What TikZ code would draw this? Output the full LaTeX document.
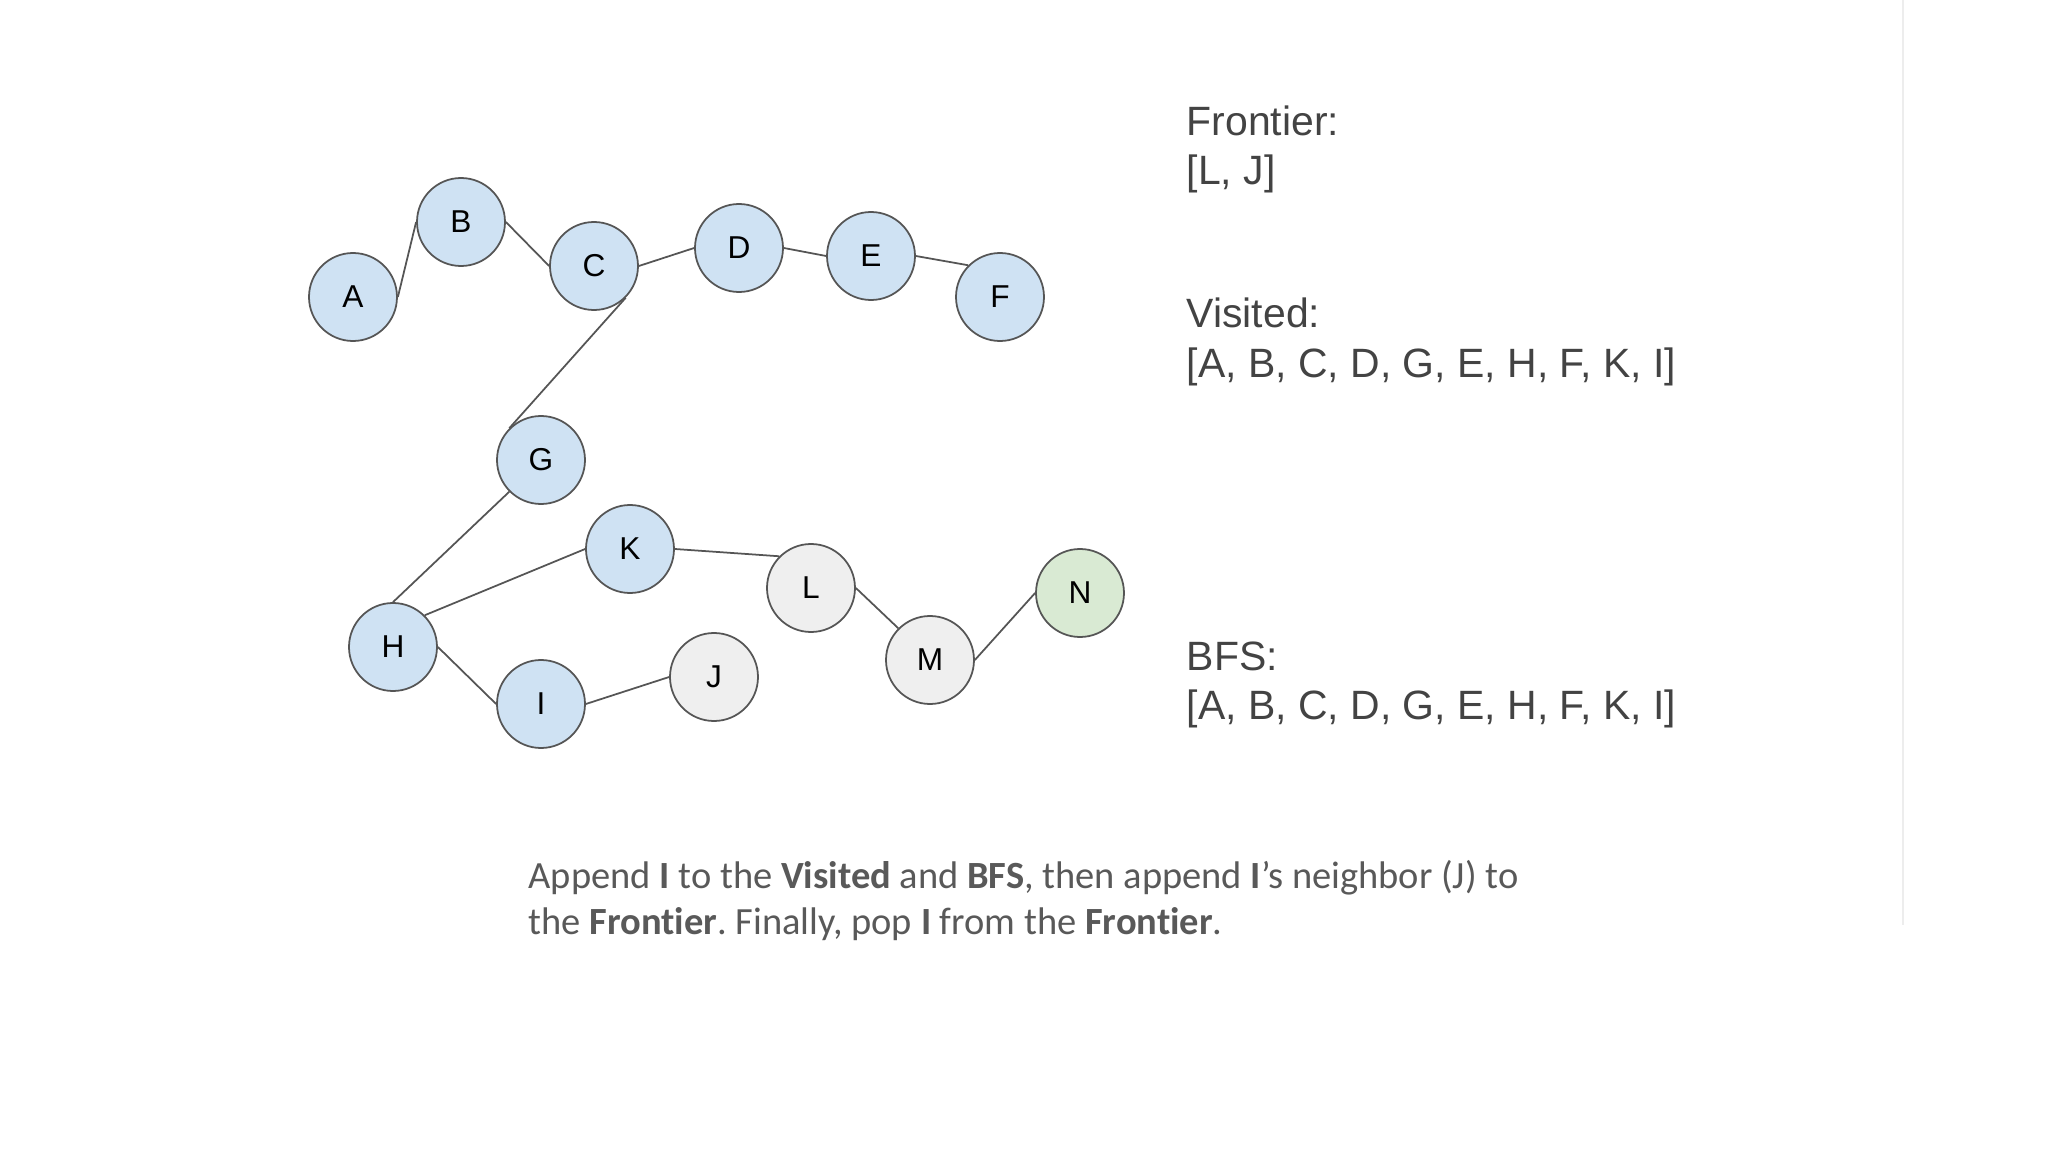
\documentclass[tikz,border=0pt]{standalone}
\usepackage{fontspec}
\setmainfont{Liberation Sans}
\newfontfamily\notefont[Ligatures=NoCommon]{Carlito}
\definecolor{seen}{HTML}{CFE2F3}
\definecolor{open}{HTML}{EFEFEF}
\definecolor{goal}{HTML}{D9EAD3}
\definecolor{rim}{HTML}{555555}
\definecolor{ink}{HTML}{434343}
\definecolor{note}{HTML}{595959}
\frenchspacing
\begin{document}
\begin{tikzpicture}[
    vertex/.style={circle, draw=rim, line width=0.5pt, minimum size=0.88cm, inner sep=0pt, font=\fontsize{9}{11}\selectfont},
    edge/.style={draw=rim, line width=0.5pt},
    listtext/.style={anchor=base west, text=ink, inner sep=0pt, font=\fontsize{11.65}{14}\selectfont},
    notetext/.style={anchor=base west, text=note, inner sep=0pt, font=\notefont\fontsize{10.95}{13}\selectfont}]
    \useasboundingbox (0,0) rectangle (20.48,-11.52);
    % page edge
    \draw[black!7, line width=0.8pt] (19.03,0) -- (19.03,-9.25);
    % top row
    \node[vertex, fill=seen] (A) at (3.53,-2.97) {A};
    \node[vertex, fill=seen] (B) at (4.61,-2.22) {B};
    \node[vertex, fill=seen] (C) at (5.94,-2.66) {C};
    \node[vertex, fill=seen] (D) at (7.39,-2.48) {D};
    \node[vertex, fill=seen] (E) at (8.71,-2.56) {E};
    \node[vertex, fill=seen] (F) at (10.00,-2.97) {F};
    % lower part
    \node[vertex, fill=seen] (G) at (5.41,-4.60) {G};
    \node[vertex, fill=seen] (H) at (3.93,-6.47) {H};
    \node[vertex, fill=seen] (K) at (6.30,-5.49) {K};
    \node[vertex, fill=seen] (I) at (5.41,-7.04) {I};
    \node[vertex, fill=open] (J) at (7.14,-6.77) {J};
    \node[vertex, fill=open] (L) at (8.11,-5.88) {L};
    \node[vertex, fill=open] (M) at (9.30,-6.60) {M};
    \node[vertex, fill=goal] (N) at (10.80,-5.93) {N};
    % edges
    \draw[edge] (A.east) -- (B.west);
    \draw[edge] (B.east) -- (C.west);
    \draw[edge] (C.east) -- (D.west);
    \draw[edge] (D.east) -- (E.west);
    \draw[edge] (E.east) -- (F.north west);
    \draw[edge] (C.south east) -- (G.north west);
    \draw[edge] (G.south west) -- (H.north);
    \draw[edge] (H.north east) -- (K.west);
    \draw[edge] (H.east) -- (I.west);
    \draw[edge] (I.east) -- (J.west);
    \draw[edge] (K.east) -- (L.north west);
    \draw[edge] (L.east) -- (M.north west);
    \draw[edge] (M.east) -- (N.west);
    % lists
    \node[listtext] (frontier) at (11.86,-1.36) {Frontier:};
    \node[listtext] (frontierlist) at (11.86,-1.85) {[L, J]};
    \node[listtext] (visited) at (11.86,-3.28) {Visited:};
    \node[listtext] (visitedlist) at (11.86,-3.77) {[A, B, C, D, G, E, H, F, K, I]};
    \node[listtext] (bfs) at (11.86,-6.70) {BFS:};
    \node[listtext] (bfslist) at (11.86,-7.19) {[A, B, C, D, G, E, H, F, K, I]};
    % caption
    \node[notetext] (note1) at (5.28,-8.88) {Append \textbf{I} to the \textbf{Visited} and \textbf{BFS}, then append \textbf{I}’s neighbor (J) to};
    \node[notetext] (note2) at (5.28,-9.34) {the \textbf{Frontier}. Finally, pop \textbf{I} from the \textbf{Frontier}.};
\end{tikzpicture}
\end{document}
